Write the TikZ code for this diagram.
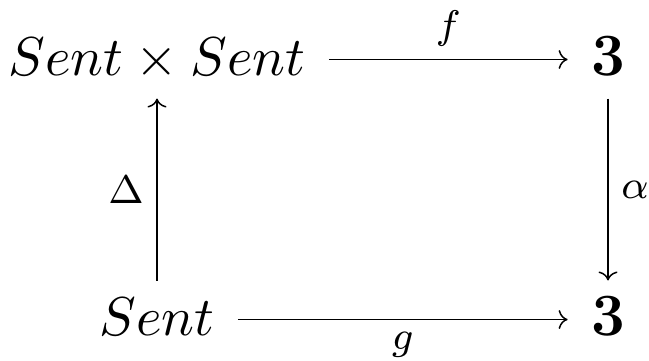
\documentclass[tikz,border=0pt]{standalone}
\usepackage{amsmath,amssymb}
\usepackage{tikz}
\usetikzlibrary{arrows.meta,positioning}

\begin{document}
\begin{tikzpicture}[
  x=0.2pt, y=-0.2pt,
  obj/.style={inner sep=4.5pt, text height=6.2pt, text depth=0pt, anchor=base, font=\fontsize{10.95}{13}\selectfont},
  big/.style={font=\fontsize{12.5}{15}\selectfont},
  lbl/.style={inner sep=2.5pt, font=\fontsize{10.95}{13}\selectfont},
  arr/.style={-{To[scale=0.8]}, line width=0.3pt}
]
  \useasboundingbox (0,0) rectangle (649,360);
  \node[obj] (pair) at (157,75) {$Sent \times Sent$};
  \node[obj, big] (three) at (608,75) {$\mathbf{3}$};
  \node[obj] (sent) at (157,335) {$Sent$};
  \node[obj, big] (threeb) at (608,335) {$\mathbf{3}$};

  \draw[arr] (pair) -- node[above,lbl]{$\scriptstyle f$} (three);
  \draw[arr] (sent) -- node[left,lbl]{$\scriptstyle \Delta$} (pair);
  \draw[arr] (three) -- node[right,lbl]{$\scriptstyle \alpha$} (threeb);
  \draw[arr] (sent) -- node[below,lbl]{$\scriptstyle g$} (threeb);
\end{tikzpicture}
\end{document}
